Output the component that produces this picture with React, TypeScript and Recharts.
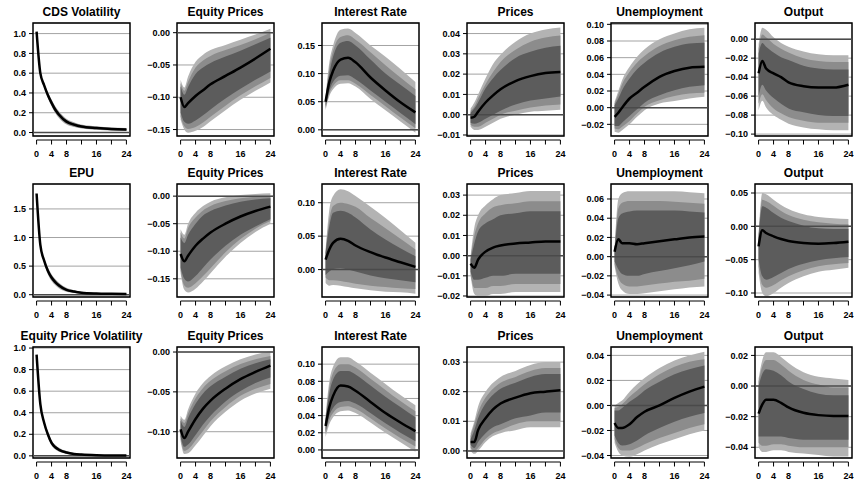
import { ComposedChart, Area, Line, XAxis, YAxis, CartesianGrid, ReferenceLine, ReferenceArea } from 'recharts'

// horizons (months after the shock)
const H = [0, 1, 2, 4, 6, 8, 12, 16, 20, 24]
const H1 = [0, 1, 2, 3, 4, 5, 6, 8, 10, 12, 16, 20, 24]
const X_TICKS = [0, 4, 8, 12, 16, 20, 24]

const TITLES = [
  ['CDS Volatility', 'Equity Prices', 'Interest Rate', 'Prices', 'Unemployment', 'Output'],
  ['EPU', 'Equity Prices', 'Interest Rate', 'Prices', 'Unemployment', 'Output'],
  ['Equity Price Volatility', 'Equity Prices', 'Interest Rate', 'Prices', 'Unemployment', 'Output'],
]

// ---- row 1: CDS volatility shock ----
const cdsMid = [1.02, 0.6, 0.48, 0.38, 0.3, 0.23, 0.18, 0.11, 0.08, 0.06, 0.045, 0.035, 0.03]
const cds90 = [[1.02, 1.02], [0.59, 0.61], [0.46, 0.5], [0.35, 0.41], [0.265, 0.335], [0.195, 0.265], [0.145, 0.215], [0.08, 0.14], [0.055, 0.105], [0.04, 0.08], [0.027, 0.063], [0.019, 0.051], [0.015, 0.045]]
const cds80 = [[1.02, 1.02], [0.593, 0.607], [0.466, 0.494], [0.359, 0.401], [0.275, 0.325], [0.205, 0.255], [0.155, 0.205], [0.09, 0.13], [0.062, 0.098], [0.046, 0.074], [0.032, 0.058], [0.024, 0.046], [0.019, 0.041]]
const cds68 = [[1.02, 1.02], [0.596, 0.604], [0.472, 0.488], [0.368, 0.392], [0.286, 0.314], [0.216, 0.244], [0.166, 0.194], [0.098, 0.122], [0.07, 0.09], [0.052, 0.068], [0.038, 0.052], [0.029, 0.041], [0.024, 0.036]]

const eq1Mid = [-0.1, -0.115, -0.109, -0.098, -0.089, -0.08, -0.067, -0.054, -0.04, -0.025]
const eq190 = [[-0.135, -0.073], [-0.15, -0.085], [-0.155, -0.068], [-0.152, -0.045], [-0.146, -0.034], [-0.137, -0.027], [-0.12, -0.019], [-0.104, -0.011], [-0.09, -0.003], [-0.077, 0.006]]
const eq180 = [[-0.13, -0.078], [-0.145, -0.09], [-0.149, -0.076], [-0.146, -0.054], [-0.139, -0.043], [-0.13, -0.036], [-0.113, -0.027], [-0.097, -0.019], [-0.083, -0.01], [-0.07, 0.0]]
const eq168 = [[-0.124, -0.083], [-0.138, -0.096], [-0.141, -0.084], [-0.136, -0.064], [-0.128, -0.054], [-0.119, -0.047], [-0.102, -0.037], [-0.087, -0.028], [-0.073, -0.018], [-0.06, -0.008]]

const ir1Mid = [0.05, 0.085, 0.105, 0.125, 0.128, 0.12, 0.093, 0.07, 0.049, 0.031]
const ir190 = [[0.035, 0.06], [0.06, 0.12], [0.072, 0.15], [0.082, 0.178], [0.083, 0.18], [0.077, 0.172], [0.055, 0.15], [0.035, 0.13], [0.015, 0.108], [-0.005, 0.085]]
const ir180 = [[0.038, 0.057], [0.065, 0.11], [0.078, 0.14], [0.088, 0.165], [0.088, 0.168], [0.082, 0.16], [0.062, 0.138], [0.042, 0.115], [0.022, 0.093], [0.003, 0.072]]
const ir168 = [[0.042, 0.055], [0.07, 0.1], [0.085, 0.13], [0.096, 0.155], [0.097, 0.158], [0.09, 0.15], [0.07, 0.125], [0.05, 0.1], [0.03, 0.08], [0.01, 0.06]]

const pr1Mid = [-0.0015, -0.001, 0.0015, 0.006, 0.0095, 0.0125, 0.0166, 0.019, 0.0205, 0.021]
const pr190 = [[-0.006, 0.003], [-0.0075, 0.006], [-0.0075, 0.01], [-0.006, 0.018], [-0.004, 0.025], [-0.002, 0.0295], [0.0, 0.036], [0.0015, 0.04], [0.002, 0.042], [0.0025, 0.043]]
const pr180 = [[-0.005, 0.002], [-0.006, 0.004], [-0.006, 0.008], [-0.004, 0.015], [-0.002, 0.021], [0.0, 0.026], [0.002, 0.032], [0.0035, 0.036], [0.0045, 0.038], [0.005, 0.039]]
const pr168 = [[-0.004, 0.001], [-0.0045, 0.003], [-0.004, 0.006], [-0.002, 0.013], [0.0, 0.018], [0.002, 0.022], [0.005, 0.028], [0.007, 0.031], [0.008, 0.033], [0.009, 0.034]]

const un1Mid = [-0.011, -0.006, 0.0, 0.011, 0.018, 0.025, 0.037, 0.044, 0.048, 0.049]
const un190 = [[-0.029, 0.007], [-0.03, 0.02], [-0.027, 0.033], [-0.02, 0.049], [-0.011, 0.061], [-0.003, 0.07], [0.005, 0.082], [0.008, 0.089], [0.011, 0.094], [0.013, 0.096]]
const un180 = [[-0.025, 0.005], [-0.026, 0.016], [-0.023, 0.028], [-0.016, 0.043], [-0.007, 0.054], [0.001, 0.062], [0.009, 0.074], [0.014, 0.081], [0.017, 0.085], [0.018, 0.087]]
const un168 = [[-0.022, 0.003], [-0.022, 0.011], [-0.018, 0.021], [-0.01, 0.035], [-0.002, 0.046], [0.006, 0.054], [0.015, 0.066], [0.021, 0.073], [0.025, 0.077], [0.027, 0.078]]

const out1Mid = [-0.036, -0.023, -0.031, -0.036, -0.04, -0.0455, -0.0496, -0.051, -0.051, -0.048]
const out190 = [[-0.075, -0.005], [-0.065, 0.012], [-0.072, 0.01], [-0.08, 0.002], [-0.085, -0.004], [-0.089, -0.008], [-0.093, -0.013], [-0.095, -0.016], [-0.096, -0.017], [-0.096, -0.017]]
const out180 = [[-0.068, -0.01], [-0.058, 0.005], [-0.064, 0.002], [-0.073, -0.005], [-0.078, -0.01], [-0.082, -0.014], [-0.086, -0.02], [-0.088, -0.023], [-0.088, -0.024], [-0.088, -0.024]]
const out168 = [[-0.06, -0.015], [-0.048, -0.004], [-0.054, -0.008], [-0.062, -0.014], [-0.068, -0.019], [-0.073, -0.022], [-0.077, -0.028], [-0.08, -0.031], [-0.081, -0.032], [-0.081, -0.032]]

// ---- row 2: EPU shock ----
const epuMid = [1.77, 0.87, 0.6, 0.42, 0.3, 0.22, 0.16, 0.085, 0.055, 0.035, 0.02, 0.015, 0.012]
const epu90 = [[1.77, 1.77], [0.85, 0.89], [0.56, 0.64], [0.36, 0.48], [0.24, 0.36], [0.165, 0.275], [0.11, 0.21], [0.05, 0.12], [0.03, 0.08], [0.018, 0.052], [0.008, 0.032], [0.005, 0.025], [0.004, 0.02]]
const epu80 = [[1.77, 1.77], [0.855, 0.885], [0.572, 0.628], [0.378, 0.462], [0.258, 0.342], [0.182, 0.258], [0.125, 0.195], [0.06, 0.11], [0.037, 0.073], [0.023, 0.047], [0.011, 0.029], [0.008, 0.022], [0.006, 0.018]]
const epu68 = [[1.77, 1.77], [0.862, 0.878], [0.585, 0.615], [0.396, 0.444], [0.276, 0.324], [0.198, 0.242], [0.14, 0.18], [0.07, 0.1], [0.045, 0.065], [0.028, 0.042], [0.014, 0.026], [0.011, 0.019], [0.009, 0.015]]

const eq2Mid = [-0.105, -0.118, -0.108, -0.09, -0.077, -0.066, -0.05, -0.037, -0.027, -0.019]
const eq290 = [[-0.14, -0.06], [-0.17, -0.07], [-0.175, -0.05], [-0.168, -0.03], [-0.155, -0.018], [-0.14, -0.01], [-0.11, -0.002], [-0.085, 0.002], [-0.065, 0.004], [-0.05, 0.005]]
const eq280 = [[-0.135, -0.066], [-0.162, -0.077], [-0.166, -0.058], [-0.158, -0.039], [-0.145, -0.026], [-0.131, -0.018], [-0.102, -0.009], [-0.078, -0.004], [-0.059, -0.001], [-0.045, 0.0]]
const eq268 = [[-0.13, -0.075], [-0.15, -0.085], [-0.155, -0.07], [-0.145, -0.05], [-0.13, -0.035], [-0.115, -0.027], [-0.09, -0.017], [-0.07, -0.01], [-0.055, -0.006], [-0.042, -0.004]]

const ir2Mid = [0.015, 0.03, 0.04, 0.046, 0.043, 0.036, 0.026, 0.018, 0.011, 0.004]
const ir290 = [[-0.02, 0.03], [-0.024, 0.09], [-0.023, 0.11], [-0.024, 0.12], [-0.026, 0.117], [-0.028, 0.11], [-0.031, 0.094], [-0.033, 0.077], [-0.034, 0.059], [-0.036, 0.04]]
const ir280 = [[-0.012, 0.027], [-0.016, 0.075], [-0.016, 0.095], [-0.017, 0.1], [-0.019, 0.098], [-0.021, 0.094], [-0.024, 0.077], [-0.026, 0.062], [-0.028, 0.046], [-0.029, 0.03]]
const ir268 = [[-0.008, 0.025], [-0.003, 0.065], [0.001, 0.085], [0.002, 0.088], [0.0, 0.085], [-0.003, 0.078], [-0.009, 0.06], [-0.013, 0.045], [-0.016, 0.032], [-0.019, 0.02]]

const pr2Mid = [-0.004, -0.006, -0.002, 0.002, 0.004, 0.005, 0.006, 0.0065, 0.007, 0.007]
const pr290 = [[-0.01, 0.0], [-0.019, 0.014], [-0.02, 0.02], [-0.02, 0.025], [-0.019, 0.028], [-0.019, 0.03], [-0.018, 0.031], [-0.018, 0.032], [-0.018, 0.032], [-0.018, 0.032]]
const pr280 = [[-0.009, -0.001], [-0.016, 0.01], [-0.016, 0.016], [-0.016, 0.021], [-0.015, 0.024], [-0.015, 0.025], [-0.014, 0.026], [-0.014, 0.027], [-0.014, 0.027], [-0.014, 0.027]]
const pr268 = [[-0.008, -0.002], [-0.012, 0.006], [-0.012, 0.012], [-0.011, 0.016], [-0.01, 0.018], [-0.01, 0.02], [-0.009, 0.021], [-0.009, 0.022], [-0.009, 0.022], [-0.009, 0.022]]

const un2Mid = [0.005, 0.018, 0.014, 0.014, 0.013, 0.014, 0.016, 0.018, 0.02, 0.021]
const un290 = [[-0.01, 0.01], [-0.028, 0.06], [-0.035, 0.066], [-0.039, 0.068], [-0.039, 0.068], [-0.038, 0.068], [-0.036, 0.068], [-0.034, 0.068], [-0.032, 0.067], [-0.031, 0.066]]
const un280 = [[-0.008, 0.008], [-0.022, 0.05], [-0.028, 0.056], [-0.031, 0.058], [-0.031, 0.058], [-0.03, 0.058], [-0.028, 0.058], [-0.026, 0.057], [-0.025, 0.056], [-0.023, 0.055]]
const un268 = [[-0.005, 0.007], [-0.013, 0.04], [-0.018, 0.045], [-0.02, 0.047], [-0.02, 0.048], [-0.018, 0.048], [-0.015, 0.048], [-0.012, 0.048], [-0.009, 0.047], [-0.005, 0.046]]

const out2Mid = [-0.03, -0.006, -0.01, -0.015, -0.019, -0.022, -0.025, -0.026, -0.025, -0.023]
const out290 = [[-0.07, -0.01], [-0.1, 0.05], [-0.105, 0.048], [-0.1, 0.04], [-0.092, 0.032], [-0.085, 0.026], [-0.075, 0.018], [-0.068, 0.014], [-0.065, 0.012], [-0.062, 0.011]]
const out280 = [[-0.06, -0.013], [-0.088, 0.04], [-0.092, 0.038], [-0.088, 0.031], [-0.081, 0.023], [-0.075, 0.017], [-0.066, 0.01], [-0.06, 0.006], [-0.057, 0.004], [-0.055, 0.003]]
const out268 = [[-0.05, -0.016], [-0.075, 0.03], [-0.08, 0.028], [-0.076, 0.02], [-0.07, 0.013], [-0.064, 0.008], [-0.056, 0.001], [-0.051, -0.003], [-0.048, -0.004], [-0.046, -0.004]]

// ---- row 3: equity price volatility shock ----
const epvMid = [0.94, 0.48, 0.31, 0.2, 0.12, 0.08, 0.056, 0.031, 0.018, 0.012, 0.006, 0.004, 0.003]
const epv90 = [[0.94, 0.94], [0.47, 0.49], [0.29, 0.33], [0.175, 0.225], [0.095, 0.145], [0.058, 0.102], [0.038, 0.074], [0.018, 0.044], [0.009, 0.027], [0.005, 0.019], [0.002, 0.01], [0.001, 0.007], [0.0, 0.006]]
const epv80 = [[0.94, 0.94], [0.473, 0.487], [0.296, 0.324], [0.183, 0.217], [0.103, 0.137], [0.065, 0.095], [0.044, 0.068], [0.022, 0.04], [0.012, 0.024], [0.007, 0.017], [0.003, 0.009], [0.002, 0.006], [0.001, 0.005]]
const epv68 = [[0.94, 0.94], [0.476, 0.484], [0.302, 0.318], [0.19, 0.21], [0.11, 0.13], [0.071, 0.089], [0.049, 0.063], [0.026, 0.036], [0.014, 0.022], [0.009, 0.015], [0.004, 0.008], [0.003, 0.005], [0.002, 0.004]]

const eq3Mid = [-0.097, -0.108, -0.1, -0.084, -0.071, -0.061, -0.046, -0.034, -0.025, -0.017]
const eq390 = [[-0.112, -0.08], [-0.128, -0.085], [-0.127, -0.072], [-0.117, -0.052], [-0.105, -0.039], [-0.093, -0.03], [-0.075, -0.018], [-0.061, -0.009], [-0.052, -0.003], [-0.046, 0.001]]
const eq380 = [[-0.109, -0.083], [-0.124, -0.089], [-0.122, -0.077], [-0.111, -0.058], [-0.099, -0.045], [-0.087, -0.036], [-0.069, -0.024], [-0.055, -0.015], [-0.046, -0.009], [-0.04, -0.005]]
const eq368 = [[-0.106, -0.086], [-0.119, -0.094], [-0.116, -0.083], [-0.104, -0.065], [-0.091, -0.052], [-0.08, -0.043], [-0.062, -0.031], [-0.049, -0.021], [-0.039, -0.014], [-0.032, -0.009]]

const ir3Mid = [0.028, 0.05, 0.063, 0.075, 0.074, 0.069, 0.056, 0.043, 0.032, 0.022]
const ir390 = [[0.015, 0.04], [0.03, 0.08], [0.038, 0.097], [0.045, 0.108], [0.046, 0.108], [0.043, 0.103], [0.032, 0.09], [0.02, 0.077], [0.009, 0.064], [-0.002, 0.052]]
const ir380 = [[0.018, 0.037], [0.035, 0.073], [0.043, 0.09], [0.05, 0.1], [0.051, 0.1], [0.048, 0.096], [0.037, 0.083], [0.025, 0.07], [0.014, 0.057], [0.004, 0.045]]
const ir368 = [[0.021, 0.034], [0.04, 0.066], [0.049, 0.082], [0.056, 0.092], [0.057, 0.092], [0.054, 0.088], [0.043, 0.075], [0.031, 0.062], [0.02, 0.05], [0.01, 0.038]]

const pr3Mid = [0.003, 0.003, 0.007, 0.011, 0.014, 0.016, 0.018, 0.0195, 0.02, 0.0205]
const pr390 = [[0.0, 0.006], [-0.001, 0.01], [0.0, 0.015], [0.003, 0.02], [0.005, 0.023], [0.006, 0.025], [0.007, 0.027], [0.008, 0.029], [0.008, 0.03], [0.008, 0.03]]
const pr380 = [[0.001, 0.005], [0.0, 0.009], [0.001, 0.013], [0.004, 0.018], [0.006, 0.021], [0.007, 0.023], [0.009, 0.025], [0.01, 0.027], [0.01, 0.028], [0.01, 0.028]]
const pr368 = [[0.002, 0.004], [0.001, 0.007], [0.003, 0.011], [0.006, 0.016], [0.008, 0.019], [0.009, 0.021], [0.011, 0.023], [0.012, 0.025], [0.013, 0.026], [0.013, 0.026]]

const un3Mid = [-0.014, -0.018, -0.018, -0.015, -0.0093, -0.005, 0.0, 0.006, 0.011, 0.015]
const un390 = [[-0.03, 0.0], [-0.037, 0.002], [-0.04, 0.004], [-0.041, 0.011], [-0.039, 0.017], [-0.036, 0.022], [-0.031, 0.03], [-0.027, 0.036], [-0.023, 0.04], [-0.02, 0.043]]
const un380 = [[-0.027, -0.002], [-0.034, -0.001], [-0.036, 0.001], [-0.036, 0.007], [-0.034, 0.012], [-0.031, 0.017], [-0.026, 0.025], [-0.022, 0.031], [-0.018, 0.035], [-0.015, 0.037]]
const un368 = [[-0.024, -0.004], [-0.03, -0.004], [-0.032, -0.002], [-0.031, 0.003], [-0.028, 0.007], [-0.024, 0.012], [-0.018, 0.019], [-0.013, 0.025], [-0.009, 0.029], [-0.006, 0.032]]

const out3Mid = [-0.018, -0.012, -0.009, -0.009, -0.011, -0.014, -0.0175, -0.019, -0.0195, -0.0195]
const out390 = [[-0.04, 0.005], [-0.043, 0.017], [-0.043, 0.022], [-0.042, 0.022], [-0.042, 0.019], [-0.043, 0.015], [-0.044, 0.009], [-0.045, 0.006], [-0.046, 0.005], [-0.046, 0.004]]
const out380 = [[-0.037, 0.003], [-0.039, 0.013], [-0.039, 0.017], [-0.038, 0.017], [-0.038, 0.014], [-0.039, 0.01], [-0.04, 0.004], [-0.04, 0.001], [-0.04, -0.001], [-0.04, -0.001]]
const out368 = [[-0.033, 0.0], [-0.033, 0.008], [-0.033, 0.011], [-0.033, 0.01], [-0.033, 0.007], [-0.034, 0.003], [-0.035, -0.002], [-0.035, -0.005], [-0.035, -0.006], [-0.035, -0.006]]

// y axis ranges and ticks, per row
const DOMAINS = [
  [[-0.035, 1.107], [-0.16, 0.015], [-0.011, 0.19], [-0.0105, 0.0452], [-0.034, 0.1016], [-0.102, 0.017]],
  [[-0.04, 1.936], [-0.183, 0.022], [-0.041, 0.128], [-0.0205, 0.0355], [-0.042, 0.0756], [-0.106, 0.0635]],
  [[-0.02, 1.01], [-0.133, 0.0063], [-0.0094, 0.12], [-0.0024, 0.0351], [-0.042, 0.0467], [-0.047, 0.0255]],
]
const TICKS = [
  [[0, 0.2, 0.4, 0.6, 0.8, 1], [-0.15, -0.1, -0.05, 0], [0, 0.05, 0.1, 0.15], [-0.01, 0, 0.01, 0.02, 0.03, 0.04], [-0.02, 0, 0.02, 0.04, 0.06, 0.08, 0.1], [-0.1, -0.08, -0.06, -0.04, -0.02, 0]],
  [[0, 0.5, 1, 1.5], [-0.15, -0.1, -0.05, 0], [0, 0.05, 0.1], [-0.02, -0.01, 0, 0.01, 0.02, 0.03], [-0.04, -0.02, 0, 0.02, 0.04, 0.06], [-0.1, -0.05, 0, 0.05]],
  [[0, 0.2, 0.4, 0.6, 0.8, 1], [-0.1, -0.05, 0], [0, 0.02, 0.04, 0.06, 0.08, 0.1], [0, 0.01, 0.02, 0.03], [-0.04, -0.02, 0, 0.02, 0.04], [-0.04, -0.02, 0, 0.02]],
]

const SERIES = [
  [[cdsMid, cds90, cds80, cds68], [eq1Mid, eq190, eq180, eq168], [ir1Mid, ir190, ir180, ir168], [pr1Mid, pr190, pr180, pr168], [un1Mid, un190, un180, un168], [out1Mid, out190, out180, out168]],
  [[epuMid, epu90, epu80, epu68], [eq2Mid, eq290, eq280, eq268], [ir2Mid, ir290, ir280, ir268], [pr2Mid, pr290, pr280, pr268], [un2Mid, un290, un280, un268], [out2Mid, out290, out280, out268]],
  [[epvMid, epv90, epv80, epv68], [eq3Mid, eq390, eq380, eq368], [ir3Mid, ir390, ir380, ir368], [pr3Mid, pr390, pr380, pr368], [un3Mid, un390, un380, un368], [out3Mid, out390, out380, out368]],
]

const BOX_LEFT = [33, 177, 322, 467, 611, 755]
const BOX_TOP = [23, 184, 347]
const BOX_H = [113, 113, 111]
const BOX_W = 97
const Y_W = 34
const X_H = 27
const FONT = '"Liberation Sans", Arial, sans-serif'

const fmt = (digits: number) => (v: number) => {
  const s = Math.abs(v).toFixed(digits)
  return v < -1e-9 ? '\u2212' + s : s
}

function XTick(props: any) {
  const { x, y, payload } = props
  const v = payload.value
  return (
    <g>
      <line x1={x} x2={x} y1={y + 4} y2={y + 8.5} stroke="#000" strokeWidth={1} />
      {v !== 12 && v !== 20 && (
        <text x={x} y={y + 21} textAnchor="middle" fontSize={9} fontWeight="bold" fontFamily={FONT} fill="#000">{v}</text>
      )}
    </g>
  )
}

function Panel({ row, col }: { row: number; col: number }) {
  const [mid, b90, b80, b68] = SERIES[row][col]
  const hs = col === 0 ? H1 : H
  const data = hs.map((h, i) => ({ h, mid: mid[i], b90: b90[i], b80: b80[i], b68: b68[i] }))
  const [lo, hi] = DOMAINS[row][col]
  const boxH = BOX_H[row]
  const axisY = lo - ((hi - lo) * 4) / boxH
  const digits = col === 0 ? 1 : 2
  const w = Y_W + BOX_W + 6
  const h = 23 + boxH + X_H
  return (
    <div style={{ position: 'absolute', left: BOX_LEFT[col] - Y_W, top: BOX_TOP[row] - 23, width: w, height: h }}>
      <div style={{ position: 'absolute', left: Y_W - 20, width: BOX_W + 40, top: 5, textAlign: 'center', fontFamily: FONT, fontWeight: 'bold', fontSize: 12, lineHeight: '14px', color: '#000' }}>
        {TITLES[row][col]}
      </div>
      <ComposedChart width={w} height={h} data={data} margin={{ top: 23, right: 6, bottom: 0, left: 0 }}>
        <CartesianGrid vertical={false} stroke="#a3a3a3" strokeWidth={1} />
        <XAxis type="number" dataKey="h" domain={[-0.96, 24.96]} ticks={X_TICKS} interval={0} allowDataOverflow height={X_H}
          axisLine={false} tickLine={false} tickSize={0} tickMargin={0} tick={(p: any) => <XTick {...p} />} />
        <YAxis type="number" domain={[lo, hi]} ticks={TICKS[row][col]} interval={0} allowDataOverflow width={Y_W}
          axisLine={false} tickLine={{ stroke: '#000' }} tickSize={4} tickMargin={3} tickFormatter={fmt(digits)}
          tick={{ fill: '#000', fontSize: 9, fontWeight: 'bold', fontFamily: FONT }} />
        <Area type="monotone" dataKey="b90" stroke="none" fill="#b3b3b3" fillOpacity={1} isAnimationActive={false} />
        <Area type="monotone" dataKey="b80" stroke="none" fill="#8c8c8c" fillOpacity={1} isAnimationActive={false} />
        <Area type="monotone" dataKey="b68" stroke="none" fill="#5c5c5c" fillOpacity={1} isAnimationActive={false} />
        <ReferenceLine y={0} stroke="#4a4a4a" strokeWidth={1.5} />
        <Line type="monotone" dataKey="mid" stroke="#000" strokeWidth={2.5} dot={false} isAnimationActive={false} />
        <ReferenceArea x1={-0.96} x2={24.96} y1={lo} y2={hi} fill="none" stroke="#000" strokeWidth={1.5} ifOverflow="visible" />
        <ReferenceLine segment={[{ x: 0, y: axisY }, { x: 24, y: axisY }]} stroke="#000" strokeWidth={1} ifOverflow="visible" />
      </ComposedChart>
    </div>
  )
}

export default function App() {
  return (
    <div style={{ position: 'absolute', left: 0, top: 0, width: 854, height: 487, background: '#fff', overflow: 'hidden' }}>
      {[0, 1, 2].map(r => [0, 1, 2, 3, 4, 5].map(c => <Panel key={`${r}-${c}`} row={r} col={c} />))}
    </div>
  )
}
